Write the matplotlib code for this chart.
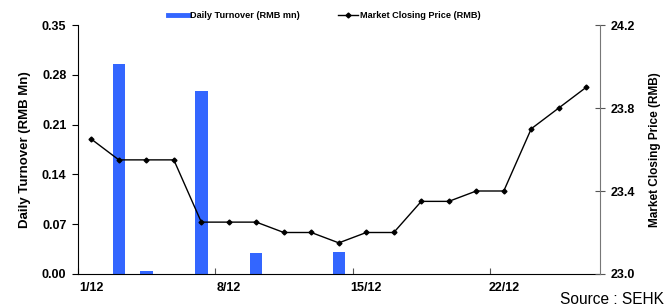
import matplotlib
matplotlib.use("Agg")
import matplotlib.pyplot as plt
from matplotlib.lines import Line2D

plt.rcParams['font.family'] = ['Liberation Sans', 'DejaVu Sans']

# trading days (Dec)
dates = ["1/12", "2/12", "3/12", "4/12", "5/12",
         "8/12", "9/12", "10/12", "11/12", "12/12",
         "15/12", "16/12", "17/12", "18/12", "19/12",
         "22/12", "23/12", "24/12", "29/12"]
turnover = [0, 0.295, 0.004, 0, 0.257,
            0, 0.030, 0, 0, 0.031,
            0, 0, 0, 0, 0,
            0, 0, 0, 0]
price = [23.65, 23.55, 23.55, 23.55, 23.25,
         23.25, 23.25, 23.20, 23.20, 23.15,
         23.20, 23.20, 23.35, 23.35, 23.40,
         23.40, 23.70, 23.80, 23.90]
tick_labels = ["1/12", "8/12", "15/12", "22/12"]

bar_color = "#3366FF"
x = list(range(len(dates)))

fig = plt.figure(figsize=(6.66, 3.08), dpi=100)
ax = fig.add_axes([0.1165, 0.1104, 0.7844, 0.8084])
ax2 = ax.twinx()

ax.bar(x, turnover, width=0.45, color=bar_color, zorder=2)
ax2.plot(x, price, color="black", lw=1, marker="D", markersize=2.5, zorder=3)

ax.set_xlim(-0.5, len(dates) - 0.5)
ax.set_ylim(0, 0.35)
ax.set_yticks([0, 0.07, 0.14, 0.21, 0.28, 0.35])
ax.set_yticklabels(["%.2f" % v for v in [0, 0.07, 0.14, 0.21, 0.28, 0.35]],
                   fontsize=9, fontweight="bold")
ax2.set_ylim(23.0, 24.2)
ax2.set_yticks([23.0, 23.4, 23.8, 24.2])
ax2.set_yticklabels(["23.0", "23.4", "23.8", "24.2"], fontsize=9, fontweight="bold")

# major ticks on category boundaries, labels at category centres
label_pos = [dates.index(t) for t in tick_labels]
ax.set_xticks([p - 0.5 for p in label_pos])
ax.set_xticklabels([])
ax.set_xticks(label_pos, minor=True)
ax.set_xticklabels(tick_labels, minor=True, fontsize=9, fontweight="bold")
ax.tick_params(axis="x", which="major", direction="in", length=4, color="#555555")
ax.tick_params(axis="x", which="minor", length=0, pad=6)
ax.tick_params(axis="y", direction="out", length=4, width=0.8, pad=4)
ax2.tick_params(axis="y", direction="inout", length=7, width=0.8, color="#555555", pad=4)

for a in (ax, ax2):
    a.spines["top"].set_visible(False)
ax2.spines["left"].set_visible(False)
ax2.spines["bottom"].set_visible(False)
ax2.spines["right"].set_color("#777777")
ax.spines["right"].set_visible(False)

ax.set_ylabel("Daily Turnover (RMB Mn)", fontsize=9.5, fontweight="bold", labelpad=8)
ax2.set_ylabel("Market Closing Price (RMB)", fontsize=8.5, fontweight="bold", labelpad=10)

handles = [Line2D([], [], color=bar_color, lw=3.5),
           Line2D([], [], color="black", lw=1, marker="D", markersize=2.5)]
fig.legend(handles, ["Daily Turnover (RMB mn)", "Market Closing Price (RMB)"],
           loc="center", bbox_to_anchor=(0.487, 0.95), ncol=2, frameon=False,
           prop={"size": 6.6, "weight": "bold"}, handlelength=2.2, handletextpad=0.15,
           columnspacing=4.2)

fig.text(0.997, 0.012, "Source : SEHK", ha="right", va="baseline", fontsize=11.2)

fig.savefig("out.png", dpi=100)
